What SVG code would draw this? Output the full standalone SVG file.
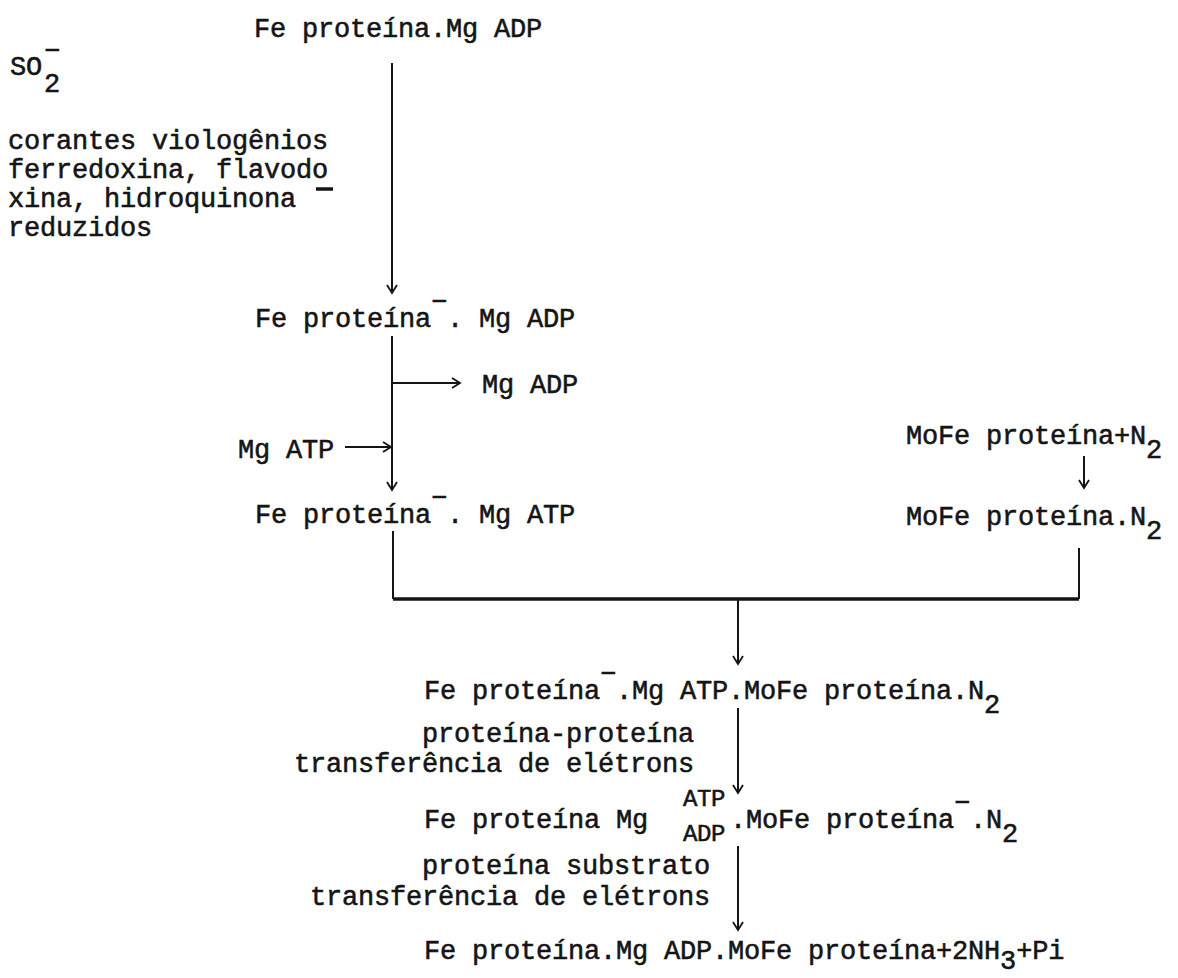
<svg xmlns="http://www.w3.org/2000/svg" width="1178" height="978" viewBox="0 0 1178 978">
<style>
text{font-family:"Liberation Mono","Courier New",monospace;font-size:27px;letter-spacing:-0.2px;fill:#151515;stroke:#151515;stroke-width:0.55px}
.sm{font-size:24px;letter-spacing:-0.4px}
.ln{stroke:#151515;stroke-width:2;fill:none}
.thick{stroke-width:3.5}
</style>
<defs>
<marker id="a" viewBox="-10 -6 12 12" refX="0" refY="0" markerWidth="12" markerHeight="12" markerUnits="userSpaceOnUse" orient="auto"><path d="M-8,-5 L0,0 L-8,5" fill="none" stroke="#151515" stroke-width="1.8"/></marker>
</defs>
<rect width="1178" height="978" fill="#fff"/>
<g id="connectors">
<path class="ln" d="M392,63 V293" marker-end="url(#a)"/>
<path class="ln" d="M392,336 V490" marker-end="url(#a)"/>
<path class="ln" d="M392,383 H460" marker-end="url(#a)"/>
<path class="ln" d="M345,447 H391" marker-end="url(#a)"/>
<path class="ln" d="M393,531 V599"/>
<path class="ln" d="M1079,548 V599"/>
<path class="ln thick" d="M393,599 H1079"/>
<path class="ln" d="M738,600 V664" marker-end="url(#a)"/>
<path class="ln" d="M1084,456 V488" marker-end="url(#a)"/>
<path class="ln" d="M738,708 V793" marker-end="url(#a)"/>
<path class="ln" d="M738,846 V930" marker-end="url(#a)"/>
</g>
<g id="n-fe-adp"><text x="254" y="37">Fe proteína.Mg ADP</text></g>
<g id="n-reductants">
<text x="10" y="75">SO<tspan x="44" y="92">2</tspan><tspan x="44" y="59">−</tspan></text>
<text x="8" y="149">corantes viologênios</text>
<text x="8" y="178">ferredoxina, flavodo</text>
<line class="ln thick" x1="316" y1="189" x2="333" y2="189"/>
<text x="8" y="207">xina, hidroquinona</text>
<text x="8" y="236">reduzidos</text>
</g>
<g id="n-fe-red-adp"><text x="255" y="327">Fe proteína<tspan dy="-17">−</tspan><tspan dy="17">. Mg ADP</tspan></text></g>
<g id="n-mgadp"><text x="482" y="393">Mg ADP</text></g>
<g id="n-mgatp"><text x="238" y="458">Mg ATP</text></g>
<g id="n-fe-red-atp"><text x="255" y="523">Fe proteína<tspan dy="-17">−</tspan><tspan dy="17">. Mg ATP</tspan></text></g>
<g id="n-mofe-n2"><text x="906" y="444">MoFe proteína+N<tspan dy="14">2</tspan></text></g>
<g id="n-mofe-bound"><text x="906" y="525">MoFe proteína.N<tspan dy="14">2</tspan></text></g>
<g id="n-complex"><text x="424" y="699">Fe proteína<tspan dy="-17">−</tspan><tspan dy="17">.Mg ATP.MoFe proteína.N</tspan><tspan dy="14">2</tspan></text></g>
<g id="l-pp">
<text x="422" y="742">proteína-proteína</text>
<text x="294" y="772">transferência de elétrons</text>
</g>
<g id="n-complex2">
<text x="424" y="828">Fe proteína Mg</text>
<text class="sm" x="683" y="806">ATP</text>
<text class="sm" x="683" y="841">ADP</text>
<text x="730" y="828">.MoFe proteína<tspan dy="-17">−</tspan><tspan dy="17">.N</tspan><tspan dy="14">2</tspan></text>
</g>
<g id="l-ps">
<text x="422" y="874">proteína substrato</text>
<text x="310" y="905">transferência de elétrons</text>
</g>
<g id="n-products"><text x="424" y="959">Fe proteína.Mg ADP.MoFe proteína+2NH<tspan dy="10">3</tspan><tspan dy="-10">+Pi</tspan></text></g>
</svg>
